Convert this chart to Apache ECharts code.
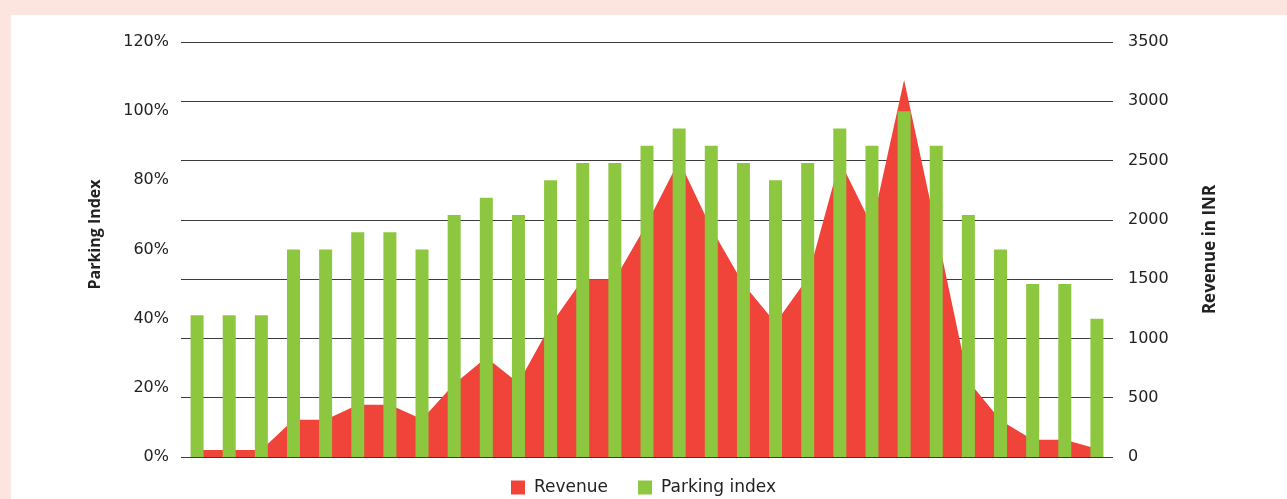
<!DOCTYPE html>
<html>
<head>
<meta charset="utf-8">
<script src="https://cdn.jsdelivr.net/npm/echarts@6/dist/echarts.min.js"></script>
<style>
  html, body { margin: 0; padding: 0; background: #fce5df; }
  #chart { width: 1287px; height: 499px; }
</style>
</head>
<body>
<div id="chart"></div>
<script>
// 29 time slots (labels hidden in the source chart)
var slots = ["1", "2", "3", "4", "5", "6", "7", "8", "9", "10", "11", "12", "13", "14", "15",
  "16", "17", "18", "19", "20", "21", "22", "23", "24", "25", "26", "27", "28", "29"];

// revenue in INR
var revenue = [60, 60, 60, 315, 315, 440, 440, 318, 615, 840, 625, 1115, 1500, 1500, 1970,
  2500, 1930, 1460, 1130, 1510, 2500, 1950, 3180, 1920, 640, 310, 145, 145, 70];

// parking index in %
var parkingIndex = [41, 41, 41, 60, 60, 65, 65, 60, 70, 75, 70, 80, 85, 85, 90,
  95, 90, 85, 80, 85, 95, 90, 100, 90, 70, 60, 50, 50, 40];

var leftTicks = { min: 0, max: 120, step: 20 };
var rightTicks = { min: 0, max: 3500, step: 500 };

var myChart = echarts.init(document.getElementById("chart"));
var font = "'Open Sans', 'Noto Sans', sans-serif";
var numFont = "'DejaVu Sans', sans-serif";

var option = {
  backgroundColor: "#fce5df",
  animation: false,
  textStyle: { fontFamily: font },
  graphic: [
    {
      type: "rect",
      z: -10,
      shape: { x: 11, y: 15, width: 1276, height: 484 },
      style: { fill: "#ffffff" }
    }
  ],
  legend: {
    left: "center",
    top: 474,
    itemWidth: 14,
    itemHeight: 14,
    itemGap: 30,
    icon: "rect",
    textStyle: { color: "#222", fontSize: 17, fontFamily: numFont, padding: [0, 0, 0, 4] },
    data: ["Revenue", "Parking index"]
  },
  grid: {
    left: 181,
    right: 174,
    top: 42,
    height: 415
  },
  xAxis: {
    type: "category",
    data: slots,
    boundaryGap: true,
    axisLine: { show: false },
    axisTick: { show: false },
    axisLabel: { show: false }
  },
  yAxis: [
    {
      type: "value",
      position: "left",
      min: leftTicks.min,
      max: leftTicks.max,
      interval: leftTicks.step,
      name: "Parking Index",
      nameLocation: "middle",
      nameGap: 78,
      nameTextStyle: { color: "#222", fontSize: 16, fontWeight: "bold", fontFamily: font, padding: [0, 0, 0, 30] },
      axisLine: { show: false },
      axisTick: { show: false },
      splitLine: { show: false },
      axisLabel: {
        color: "#222", fontSize: 16, fontFamily: numFont, margin: 12,
        padding: [4, 0, 0, 0], formatter: "{value}%"
      }
    },
    {
      type: "value",
      position: "right",
      min: rightTicks.min,
      max: rightTicks.max,
      interval: rightTicks.step,
      name: "Revenue in INR",
      nameLocation: "middle",
      nameGap: 89,
      nameTextStyle: { color: "#222", fontSize: 17, fontWeight: "bold", fontFamily: font },
      axisLine: { show: false },
      axisTick: { show: false },
      splitLine: { show: true, lineStyle: { color: "#3c3c3c", width: 1 } },
      axisLabel: {
        color: "#222", fontSize: 16, fontFamily: numFont, margin: 15,
        padding: [4, 0, 0, 0],
        formatter: function (v) { return String(v); }
      }
    }
  ],
  series: [
    {
      name: "Revenue",
      type: "line",
      yAxisIndex: 1,
      data: revenue,
      showSymbol: false,
      symbol: "none",
      z: 2,
      lineStyle: { width: 0, color: "#f0433a" },
      itemStyle: { color: "#f0433a" },
      areaStyle: { color: "#f0433a", opacity: 1 }
    },
    {
      name: "Parking index",
      type: "bar",
      yAxisIndex: 0,
      data: parkingIndex,
      barWidth: 13,
      z: 3,
      itemStyle: { color: "#8dc63f" }
    }
  ]
};

myChart.setOption(option);
</script>
</body>
</html>
